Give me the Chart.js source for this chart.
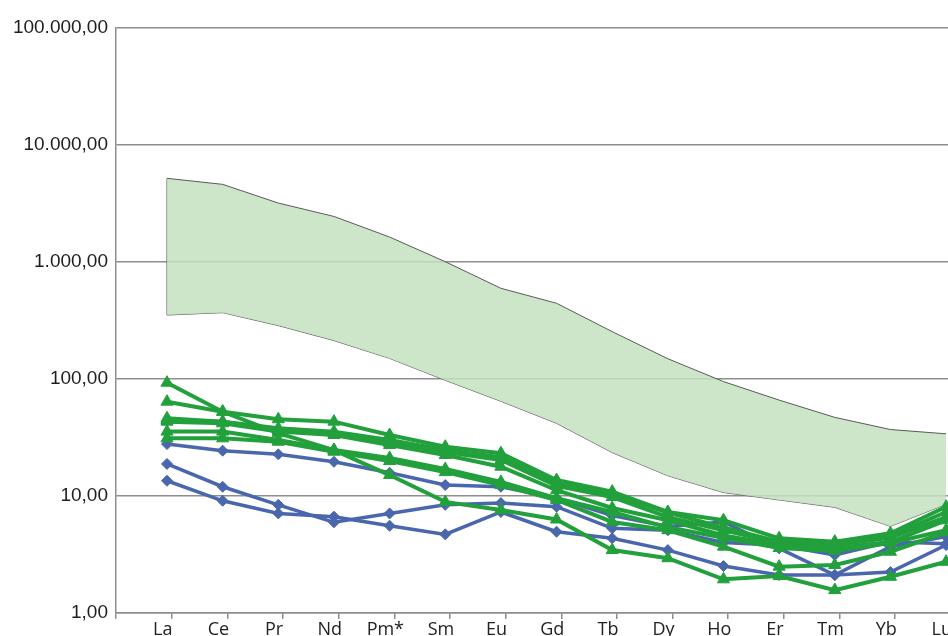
<!DOCTYPE html>
<html>
<head>
<meta charset="utf-8">
<script src="https://cdn.jsdelivr.net/npm/chart.js@4/dist/chart.umd.min.js"></script>
<style>
  html, body { margin: 0; padding: 0; background: #ffffff; overflow: hidden; width: 948px; height: 636px; }
  #wrap { position: absolute; left: 0; top: 0; width: 1000px; height: 650px; }
</style>
</head>
<body>
<div id="wrap"><canvas id="ree"></canvas></div>
<script>
// Rare earth elements on the x axis
const categories = ['La', 'Ce', 'Pr', 'Nd', 'Pm*', 'Sm', 'Eu', 'Gd', 'Tb', 'Dy', 'Ho', 'Er', 'Tm', 'Yb', 'Lu'];

// Logarithmic y axis ticks
const yTickValues = [1, 10, 100, 1000, 10000, 100000];

// Reference field (shaded envelope)
const bandUpper = [5190, 4610, 3190, 2450, 1635, 1006, 596, 444, 254, 149, 95, 66, 47, 37, 34];
const bandLower = [352, 369, 286, 213, 150, 97.5, 64.5, 41.8, 23.5, 14.9, 10.7, 9.25, 8.0, 5.5, 8.5];

// Samples plotted with green triangles
const green1 = [93, 52.5, 34.4, 24.7, 15.1, 8.9, 7.6, 6.3, 3.45, 2.94, 1.94, 2.07, 1.57, 2.04, 2.74];
const green2 = [64, 52.5, 45.3, 43.2, 33.2, 26.4, 23.2, 13.7, 10.9, 7.3, 6.2, 4.35, 4.07, 4.8, 8.1];
const green3 = [46.1, 43.2, 37.9, 35.5, 30.1, 24.7, 21.5, 12.9, 10.4, 7.2, 5.4, 4.07, 3.97, 4.55, 7.3];
const green4 = [44.6, 43.2, 36.6, 34.4, 28.4, 23.8, 20.3, 12.2, 9.8, 6.6, 5.1, 3.97, 3.81, 4.4, 6.6];
const green5 = [43.2, 41.8, 35.5, 33.2, 27.3, 22.4, 17.8, 11.2, 7.9, 6.2, 4.6, 3.81, 3.59, 4.04, 6.2];
const green6 = [35.5, 35.5, 30.1, 24.7, 21.1, 17.0, 13.2, 9.6, 7.3, 5.4, 4.4, 3.59, 3.39, 3.97, 5.1];
const green7 = [31.1, 31.1, 29.1, 23.9, 19.9, 16.0, 12.4, 9.25, 6.0, 5.1, 3.69, 2.49, 2.57, 3.34, 4.9];

// Samples plotted with blue diamonds
const blue1 = [27.8, 24.4, 22.7, 19.6, 15.8, 12.4, 12.0, 9.6, 6.8, 5.5, 6.0, 3.57, 2.11, 3.69, 4.5];
const blue2 = [18.8, 12.0, 8.4, 5.96, 7.1, 8.4, 8.7, 8.1, 5.3, 5.1, 4.0, 3.8, 3.13, 4.07, 3.9];
const blue3 = [13.5, 9.1, 7.1, 6.66, 5.57, 4.7, 7.3, 4.95, 4.35, 3.45, 2.52, 2.11, 2.11, 2.24, 3.81];

const greenSeries = [green1, green2, green3, green4, green5, green6, green7];
const blueSeries = [blue1, blue2, blue3];

const GREEN = '#22a03c';
const BLUE = '#4a66ad';
const GRID = '#8e8e8e';

const toPoints = arr => arr.map((v, i) => ({ x: i, y: v }));

// Format like 100.000,00
function formatValue(v) {
  const intPart = Math.round(v).toString().replace(/\B(?=(\d{3})+(?!\d))/g, '.');
  return intPart + ',00';
}

const datasets = [];

// Envelope: upper edge filled down to lower edge
datasets.push({
  data: toPoints(bandUpper),
  borderColor: '#5a5a5a',
  borderWidth: 1,
  backgroundColor: 'rgba(196, 225, 190, 0.85)',
  fill: '+1',
  pointRadius: 0,
  tension: 0,
  order: 3
});
datasets.push({
  data: toPoints(bandLower),
  borderColor: '#5a5a5a',
  borderWidth: 1,
  fill: false,
  pointRadius: 0,
  tension: 0,
  order: 3
});
// Closing edge of the envelope at the first element
datasets.push({
  data: [{ x: 0, y: bandLower[0] }, { x: 0, y: bandUpper[0] }],
  borderColor: '#5a5a5a',
  borderWidth: 1,
  fill: false,
  pointRadius: 0,
  order: 3
});

blueSeries.forEach(s => {
  datasets.push({
    data: toPoints(s),
    borderColor: BLUE,
    backgroundColor: BLUE,
    borderWidth: 3.5,
    pointStyle: 'rectRot',
    pointRadius: 5.5,
    pointBorderWidth: 1,
    fill: false,
    tension: 0,
    order: 2
  });
});

greenSeries.forEach(s => {
  datasets.push({
    data: toPoints(s),
    borderColor: GREEN,
    backgroundColor: GREEN,
    borderWidth: 4,
    pointStyle: 'triangle',
    pointRadius: 7,
    pointBorderWidth: 1,
    fill: false,
    tension: 0,
    order: 1
  });
});

const X_MIN = -0.9166;
const X_MAX = 14.25;
const TICK_SHIFT = 0.085;

new Chart(document.getElementById('ree'), {
  type: 'line',
  data: { datasets },
  options: {
    responsive: true,
    maintainAspectRatio: false,
    animation: false,
    devicePixelRatio: 1,
    layout: { padding: { top: 28, right: 40, left: 0, bottom: 0 } },
    plugins: { legend: { display: false }, tooltip: { enabled: false } },
    scales: {
      x: {
        type: 'linear',
        min: X_MIN,
        max: X_MAX,
        afterBuildTicks: scale => {
          const t = [{ value: X_MIN }];
          categories.forEach((c, i) => t.push({ value: i + TICK_SHIFT }));
          scale.ticks = t;
        },
        afterFit: scale => { scale.height = 37; },
        ticks: {
          autoSkip: false,
          maxRotation: 0,
          labelOffset: -9,
          padding: 0,
          color: '#222222',
          font: { family: 'Open Sans', size: 18 },
          callback: value => {
            const i = Math.round(value - TICK_SHIFT);
            return (value > X_MIN + 0.01 && categories[i] !== undefined) ? categories[i] : '';
          }
        },
        grid: { drawOnChartArea: false, drawTicks: true, tickLength: 6, color: GRID, lineWidth: 1.5 },
        border: { display: true, color: GRID, width: 1.5 }
      },
      y: {
        type: 'logarithmic',
        min: 1,
        max: 100000,
        afterBuildTicks: scale => { scale.ticks = yTickValues.map(v => ({ value: v })); },
        afterFit: scale => { scale.width = 116; },
        ticks: {
          padding: 8,
          color: '#1e1e1e',
          font: { family: 'Liberation Sans', size: 19 },
          callback: value => formatValue(value)
        },
        grid: { color: GRID, lineWidth: 1.5, drawTicks: false },
        border: { display: true, color: GRID, width: 1.5 }
      }
    }
  }
});
</script>
</body>
</html>
